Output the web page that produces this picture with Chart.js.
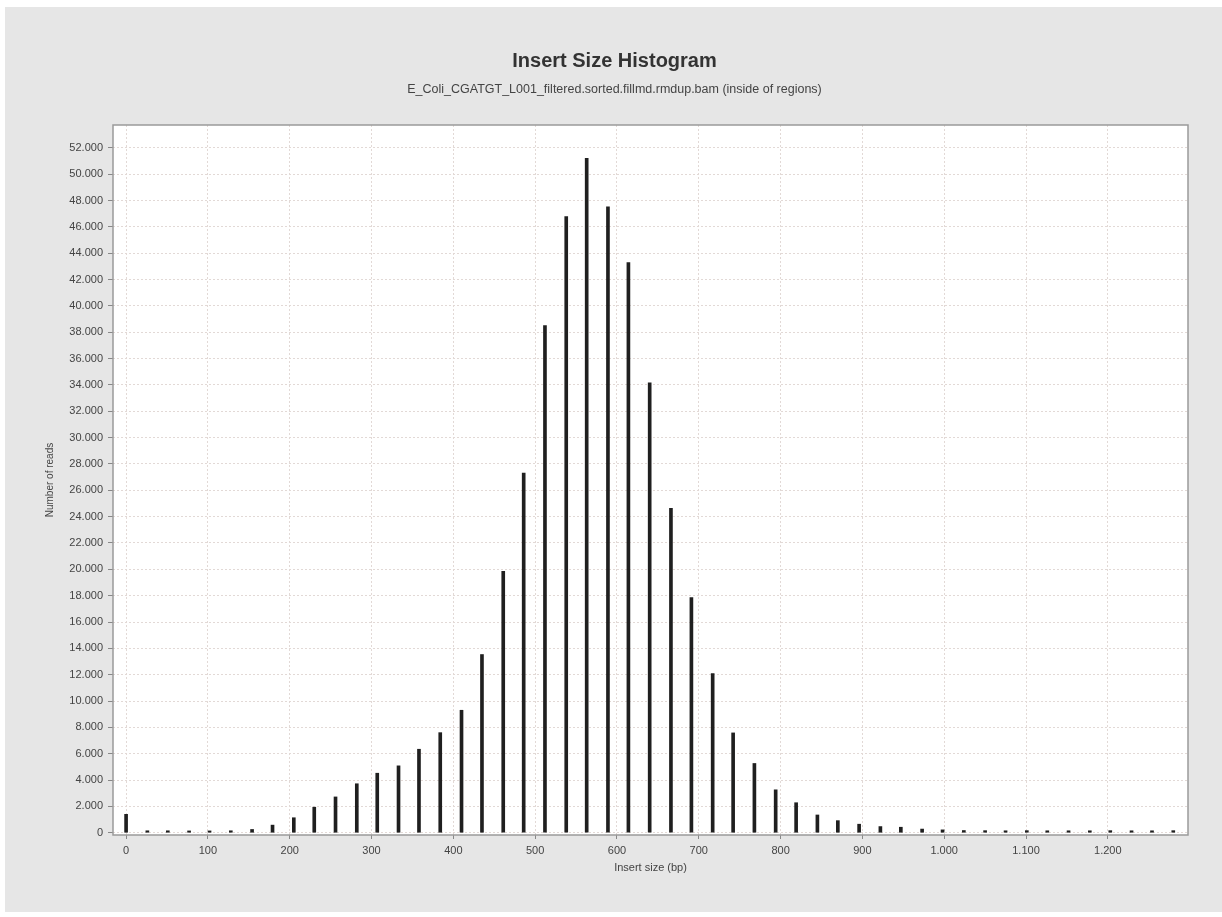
<!DOCTYPE html>
<html>
<head>
<meta charset="utf-8">
<script src="https://cdn.jsdelivr.net/npm/chart.js@4.4.1/dist/chart.umd.min.js"></script>
<style>
  html, body { margin: 0; padding: 0; background: #ffffff; }
  #panel { position: absolute; left: 5px; top: 7px; width: 1217px; height: 905px; background: #e6e6e6; }
  #myChart { display: block; }
</style>
</head>
<body>
<div id="panel"><canvas id="myChart" width="1217" height="905"></canvas></div>
<script>
// data block
const insertSizes = [0, 26, 51, 77, 102, 128, 154, 179, 205, 230,
    256, 282, 307, 333, 358, 384, 410, 435, 461, 486,
    512, 538, 563, 589, 614, 640, 666, 691, 717, 742,
    768, 794, 819, 845, 870, 896, 922, 947, 973, 998,
    1024, 1050, 1075, 1101, 1126, 1152, 1178, 1203, 1229, 1254, 1280];
const numberOfReads = [1400, 150, 150, 140, 140, 150, 250, 580, 1140, 1940,
    2720, 3720, 4520, 5080, 6340, 7600, 9300, 13530, 19840, 27310,
    38500, 46770, 51200, 47510, 43290, 34150, 24620, 17850, 12080, 7580,
    5260, 3260, 2280, 1350, 920, 650, 470, 420, 280, 220,
    170, 160, 150, 160, 150, 150, 150, 160, 150, 150, 160];
const xTicks = [0, 100, 200, 300, 400, 500, 600, 700, 800, 900, 1000, 1100, 1200];
const yTicks = [0, 2000, 4000, 6000, 8000, 10000, 12000, 14000, 16000, 18000,
    20000, 22000, 24000, 26000, 28000, 30000, 32000, 34000, 36000, 38000,
    40000, 42000, 44000, 46000, 48000, 50000, 52000];
const chartTitle = 'Insert Size Histogram';
const chartSubtitle = 'E_Coli_CGATGT_L001_filtered.sorted.fillmd.rmdup.bam (inside of regions)';

const fontFamily = "'Liberation Sans', Arial, sans-serif";
const tickFont = { family: fontFamily, size: 11 };
const gridColor = '#e2d9d6';

// 1.000 style thousands
const fmt = (v) => String(v).replace(/\B(?=(\d{3})+(?!\d))/g, '.');

const plotBox = {
    id: 'plotBox',
    afterLayout(chart) {
        // titles are centred on the whole panel, not the padded box
        chart.boxes.forEach((b) => {
            if (b.options && (b.options.text === chartTitle || b.options.text === chartSubtitle)) {
                b.left += 18;
                b.right += 18;
            }
        });
    },
    beforeDraw(chart) {
        const { ctx, chartArea: a } = chart;
        ctx.save();
        ctx.fillStyle = '#ffffff';
        ctx.fillRect(a.left, a.top, a.right - a.left, a.bottom - a.top);
        ctx.restore();
    },
    afterDraw(chart) {
        const { ctx, chartArea: a } = chart;
        ctx.save();
        ctx.strokeStyle = '#9a9a9a';
        ctx.lineWidth = 1.5;
        ctx.strokeRect(a.left, a.top, a.right - a.left, a.bottom - a.top);
        ctx.restore();
    }
};

const data = {
    datasets: [{
        label: 'Number of reads',
        data: insertSizes.map((x, i) => ({ x: x, y: numberOfReads[i] })),
        backgroundColor: '#1f1f1f',
        borderWidth: 0,
        barThickness: 3
    }]
};

// config block
const config = {
    type: 'bar',
    data: data,
    plugins: [plotBox],
    options: {
        responsive: false,
        animation: false,
        layout: { padding: { left: 0, right: 34, top: 0, bottom: 0 } },
        scales: {
            x: {
                type: 'linear',
                min: -16,
                max: 1298,
                offset: false,
                grid: { offset: false, color: gridColor, tickColor: '#888', tickLength: 4 },
                border: { display: false, dash: [2, 2] },
                afterBuildTicks: (scale) => { scale.ticks = xTicks.map((v) => ({ value: v })); },
                ticks: {
                    padding: 5,
                    maxRotation: 0,
                    autoSkip: false,
                    color: '#444',
                    font: tickFont,
                    callback: (v) => fmt(v)
                },
                title: {
                    display: true,
                    text: 'Insert size (bp)',
                    color: '#444',
                    font: { family: fontFamily, size: 11 },
                    padding: { top: 0, bottom: 37 }
                },
                afterFit: (scale) => { scale.height = 77; }
            },
            y: {
                min: -170,
                max: 53730,
                grid: { color: gridColor, tickColor: '#888', tickLength: 5 },
                border: { display: false, dash: [2, 2] },
                afterBuildTicks: (scale) => { scale.ticks = yTicks.map((v) => ({ value: v })); },
                ticks: {
                    padding: 5,
                    autoSkip: false,
                    color: '#444',
                    font: tickFont,
                    callback: (v) => fmt(v)
                },
                title: {
                    display: true,
                    text: 'Number of reads',
                    color: '#444',
                    font: { family: "'Liberation Sans Narrow', " + fontFamily, size: 10 },
                    padding: { top: 39, bottom: 0 }
                },
                afterFit: (scale) => { scale.width = 108; }
            }
        },
        plugins: {
            legend: { display: false },
            tooltip: { enabled: false },
            title: {
                display: true,
                text: chartTitle,
                color: '#333',
                font: { family: fontFamily, size: 20, weight: 'bold' },
                padding: { top: 42, bottom: 0 }
            },
            subtitle: {
                display: true,
                text: chartSubtitle,
                color: '#444',
                font: { family: fontFamily, size: 12.5 },
                padding: { top: 9, bottom: 28 }
            }
        }
    }
};

// init render block
const myChart = new Chart(
    document.getElementById('myChart'),
    config
);
</script>
</body>
</html>
